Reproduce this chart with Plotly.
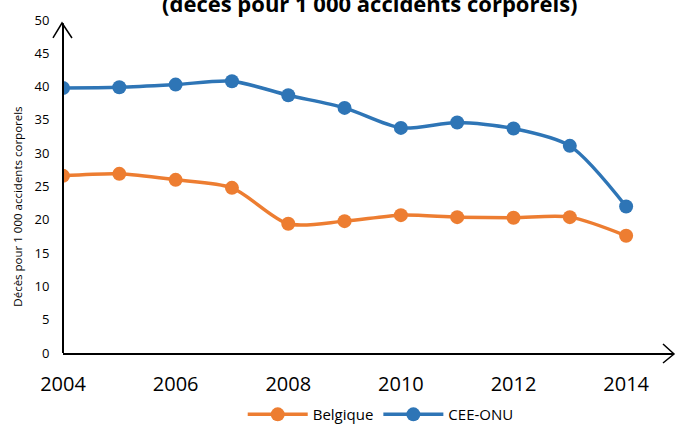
import plotly.graph_objects as go

years = [2004, 2005, 2006, 2007, 2008, 2009, 2010, 2011, 2012, 2013, 2014]
belgique = [26.6, 26.9, 26.0, 24.8, 19.4, 19.8, 20.7, 20.4, 20.3, 20.4, 17.6]
cee_onu = [39.8, 39.9, 40.3, 40.8, 38.7, 36.8, 33.8, 34.6, 33.7, 31.1, 22.0]
x_ticks = [2004, 2006, 2008, 2010, 2012, 2014]
y_ticks = [0, 5, 10, 15, 20, 25, 30, 35, 40, 45, 50]

FONT = "Open Sans"
ORANGE = "#ED7D31"
BLUE = "#2E75B6"

fig = go.Figure()

fig.add_trace(go.Scatter(
    x=years, y=belgique, name="Belgique",
    mode="lines+markers",
    line=dict(color=ORANGE, width=3.5, shape="spline", smoothing=0.8),
    marker=dict(color=ORANGE, size=14),
))
fig.add_trace(go.Scatter(
    x=years, y=cee_onu, name="CEE-ONU",
    mode="lines+markers",
    line=dict(color=BLUE, width=3.5, shape="spline", smoothing=0.8),
    marker=dict(color=BLUE, size=14),
))

# open chevrons at the end of both axes
fig.add_shape(type="path", xref="paper", yref="paper",
              path="M -0.0164,0.946 L -0.0016,0.991 L 0.0147,0.946",
              line=dict(color="black", width=1.5))
fig.add_shape(type="path", xref="paper", yref="paper",
              path="M 0.982,0.027 L 1.0,-0.003 L 0.982,-0.030",
              line=dict(color="black", width=1.5))
fig.add_shape(type="line", xref="paper", yref="paper",
              x0=0, x1=0, y0=0, y1=0.99,
              line=dict(color="black", width=2))

fig.add_annotation(
    text="<b>(décès pour 1 000 accidents corporels)</b>",
    xref="paper", yref="paper", x=0.502, y=1.052,
    xanchor="center", yanchor="middle", showarrow=False,
    font=dict(family=FONT, size=22, color="black"),
)
fig.add_annotation(
    text="Décès pour 1 000 accidents corporels",
    xref="paper", yref="paper", x=-0.075, y=0.44,
    xanchor="center", yanchor="middle", showarrow=False, textangle=-90,
    font=dict(family=FONT, size=11.5, color="black"),
)

fig.update_layout(
    width=676, height=426,
    margin=dict(l=63, r=2, t=20, b=73, autoexpand=False),
    paper_bgcolor="white", plot_bgcolor="white",
    font=dict(family=FONT, color="black"),
    showlegend=True,
    legend=dict(orientation="h", x=0.52, y=-0.185,
                xanchor="center", yanchor="middle",
                font=dict(family=FONT, size=15, color="black"),
                itemwidth=60),
    xaxis=dict(range=[2004, 2014.85], tickvals=x_ticks,
               ticktext=[str(v) for v in x_ticks],
               showgrid=False, zeroline=False, automargin=False,
               showline=True, linecolor="black", linewidth=2,
               ticks="outside", ticklen=12, tickcolor="rgba(0,0,0,0)",
               tickfont=dict(family=FONT, size=20)),
    yaxis=dict(range=[0, 50], tickvals=y_ticks,
               showgrid=False, zeroline=False, automargin=False,
               showline=False, ticks="outside", ticklen=10,
               tickcolor="rgba(0,0,0,0)",
               tickfont=dict(family=FONT, size=13)),
)

# remove the browser's default body margin so the figure sits at the page corner
fig.write_html("out.html", config={"displayModeBar": False},
               post_script="document.body.style.margin='0';")
